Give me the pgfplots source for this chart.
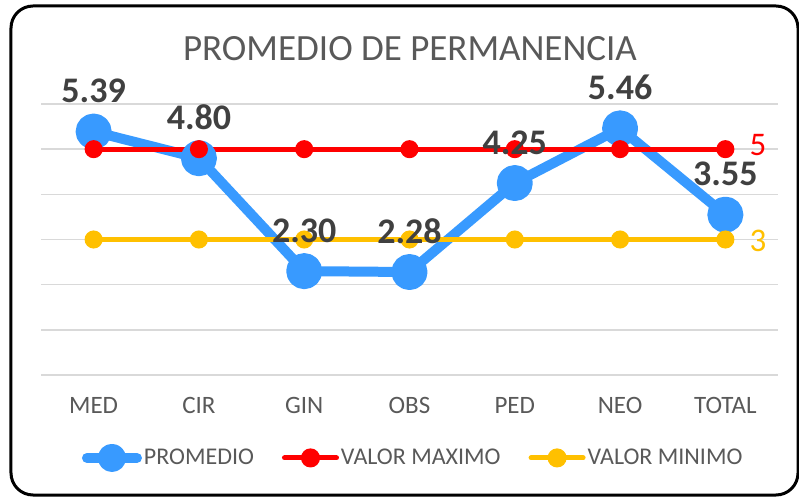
\documentclass[border=0pt]{standalone}
\usepackage{pgfplots}
\pgfplotsset{compat=1.18}
\usepackage{fontspec}
\setmainfont{Carlito}
\definecolor{pblue}{RGB}{56,154,255}
\definecolor{pred}{RGB}{255,0,0}
\definecolor{pyel}{RGB}{255,192,0}
\definecolor{txtgray}{RGB}{89,89,89}
\definecolor{lblgray}{RGB}{64,64,64}
\definecolor{gridgray}{RGB}{217,217,217}
\begin{document}
\begin{tikzpicture}[x=1pt,y=1pt]
\useasboundingbox (-41,-122) rectangle (758,375);
\draw[line width=3pt, rounded corners=22pt] (-30,-120) rectangle (757,369);
\node[anchor=base, text=txtgray, font=\fontsize{37}{37}\selectfont] at (369,314) {PROMEDIO DE PERMANENCIA};
\begin{axis}[
  at={(0,0)}, anchor=south west,
  width=737pt, height=271pt, scale only axis,
  xmin=-0.5, xmax=6.5, ymin=0, ymax=6,
  xtick={0,...,6}, xticklabels={MED,CIR,GIN,OBS,PED,NEO,TOTAL},
  ytick={0,...,6}, yticklabels={}, ymajorgrids,
  grid style={draw=gridgray, line width=1.5pt},
  axis line style={draw=none}, major tick style={draw=none},
  xticklabel style={font=\fontsize{25}{25}\selectfont, text=txtgray, anchor=base, yshift=-38pt},
  clip=false,
  legend style={at={(0.505,-0.306)}, anchor=center, draw=none, fill=none,
    font=\fontsize{24}{24}\selectfont, text=txtgray,
    /tikz/every even column/.append style={column sep=26pt},
    nodes={inner sep=2pt}},
  legend columns=3, legend cell align=left,
]
\addplot[pblue, line width=10pt, line join=round, mark=*, mark size=13pt,
  mark options={draw=none, fill=pblue},
  legend image code/.code={\draw[pblue,line width=10pt,line cap=round] (0pt,0pt)--(50pt,0pt); \fill[pblue] (25pt,0pt) circle (9pt);}]
  coordinates {(0,5.39) (1,4.80) (2,2.30) (3,2.28) (4,4.25) (5,5.46) (6,3.55)};
\addlegendentry{PROMEDIO}
\addplot[pred, line width=5pt, mark=*, mark size=6.5pt, mark options={draw=none, fill=pred},
  legend image code/.code={\draw[pred,line width=5pt,line cap=round] (0pt,0pt)--(52pt,0pt); \fill[pred] (26pt,0pt) circle (7pt);}]
  coordinates {(0,5) (1,5) (2,5) (3,5) (4,5) (5,5) (6,5)};
\addlegendentry{VALOR MAXIMO}
\addplot[pyel, line width=5pt, mark=*, mark size=6.5pt, mark options={draw=none, fill=pyel},
  legend image code/.code={\draw[pyel,line width=5pt,line cap=round] (0pt,0pt)--(52pt,0pt); \fill[pyel] (26pt,0pt) circle (7pt);}]
  coordinates {(0,3) (1,3) (2,3) (3,3) (4,3) (5,3) (6,3)};
\addlegendentry{VALOR MINIMO}
\addplot[draw=none, mark=none, forget plot, nodes near coords={\pgfmathprintnumber[fixed,fixed zerofill,precision=2,assume math mode=true]{\pgfplotspointmeta}},
  every node near coord/.append style={font=\bfseries\fontsize{36}{36}\selectfont, text=lblgray, anchor=base, yshift=29pt, inner sep=0pt}]
  coordinates {(0,5.39) (1,4.80) (2,2.30) (3,2.28) (4,4.25) (5,5.46) (6,3.55)};
\node[text=pred, font=\fontsize{33}{33}\selectfont, anchor=west, inner sep=0pt, xshift=24pt, yshift=4pt] at (axis cs:6,5) {5};
\node[text=pyel, font=\fontsize{33}{33}\selectfont, anchor=west, inner sep=0pt, xshift=24pt, yshift=-1pt] at (axis cs:6,3) {3};
\end{axis}
\end{tikzpicture}
\end{document}
